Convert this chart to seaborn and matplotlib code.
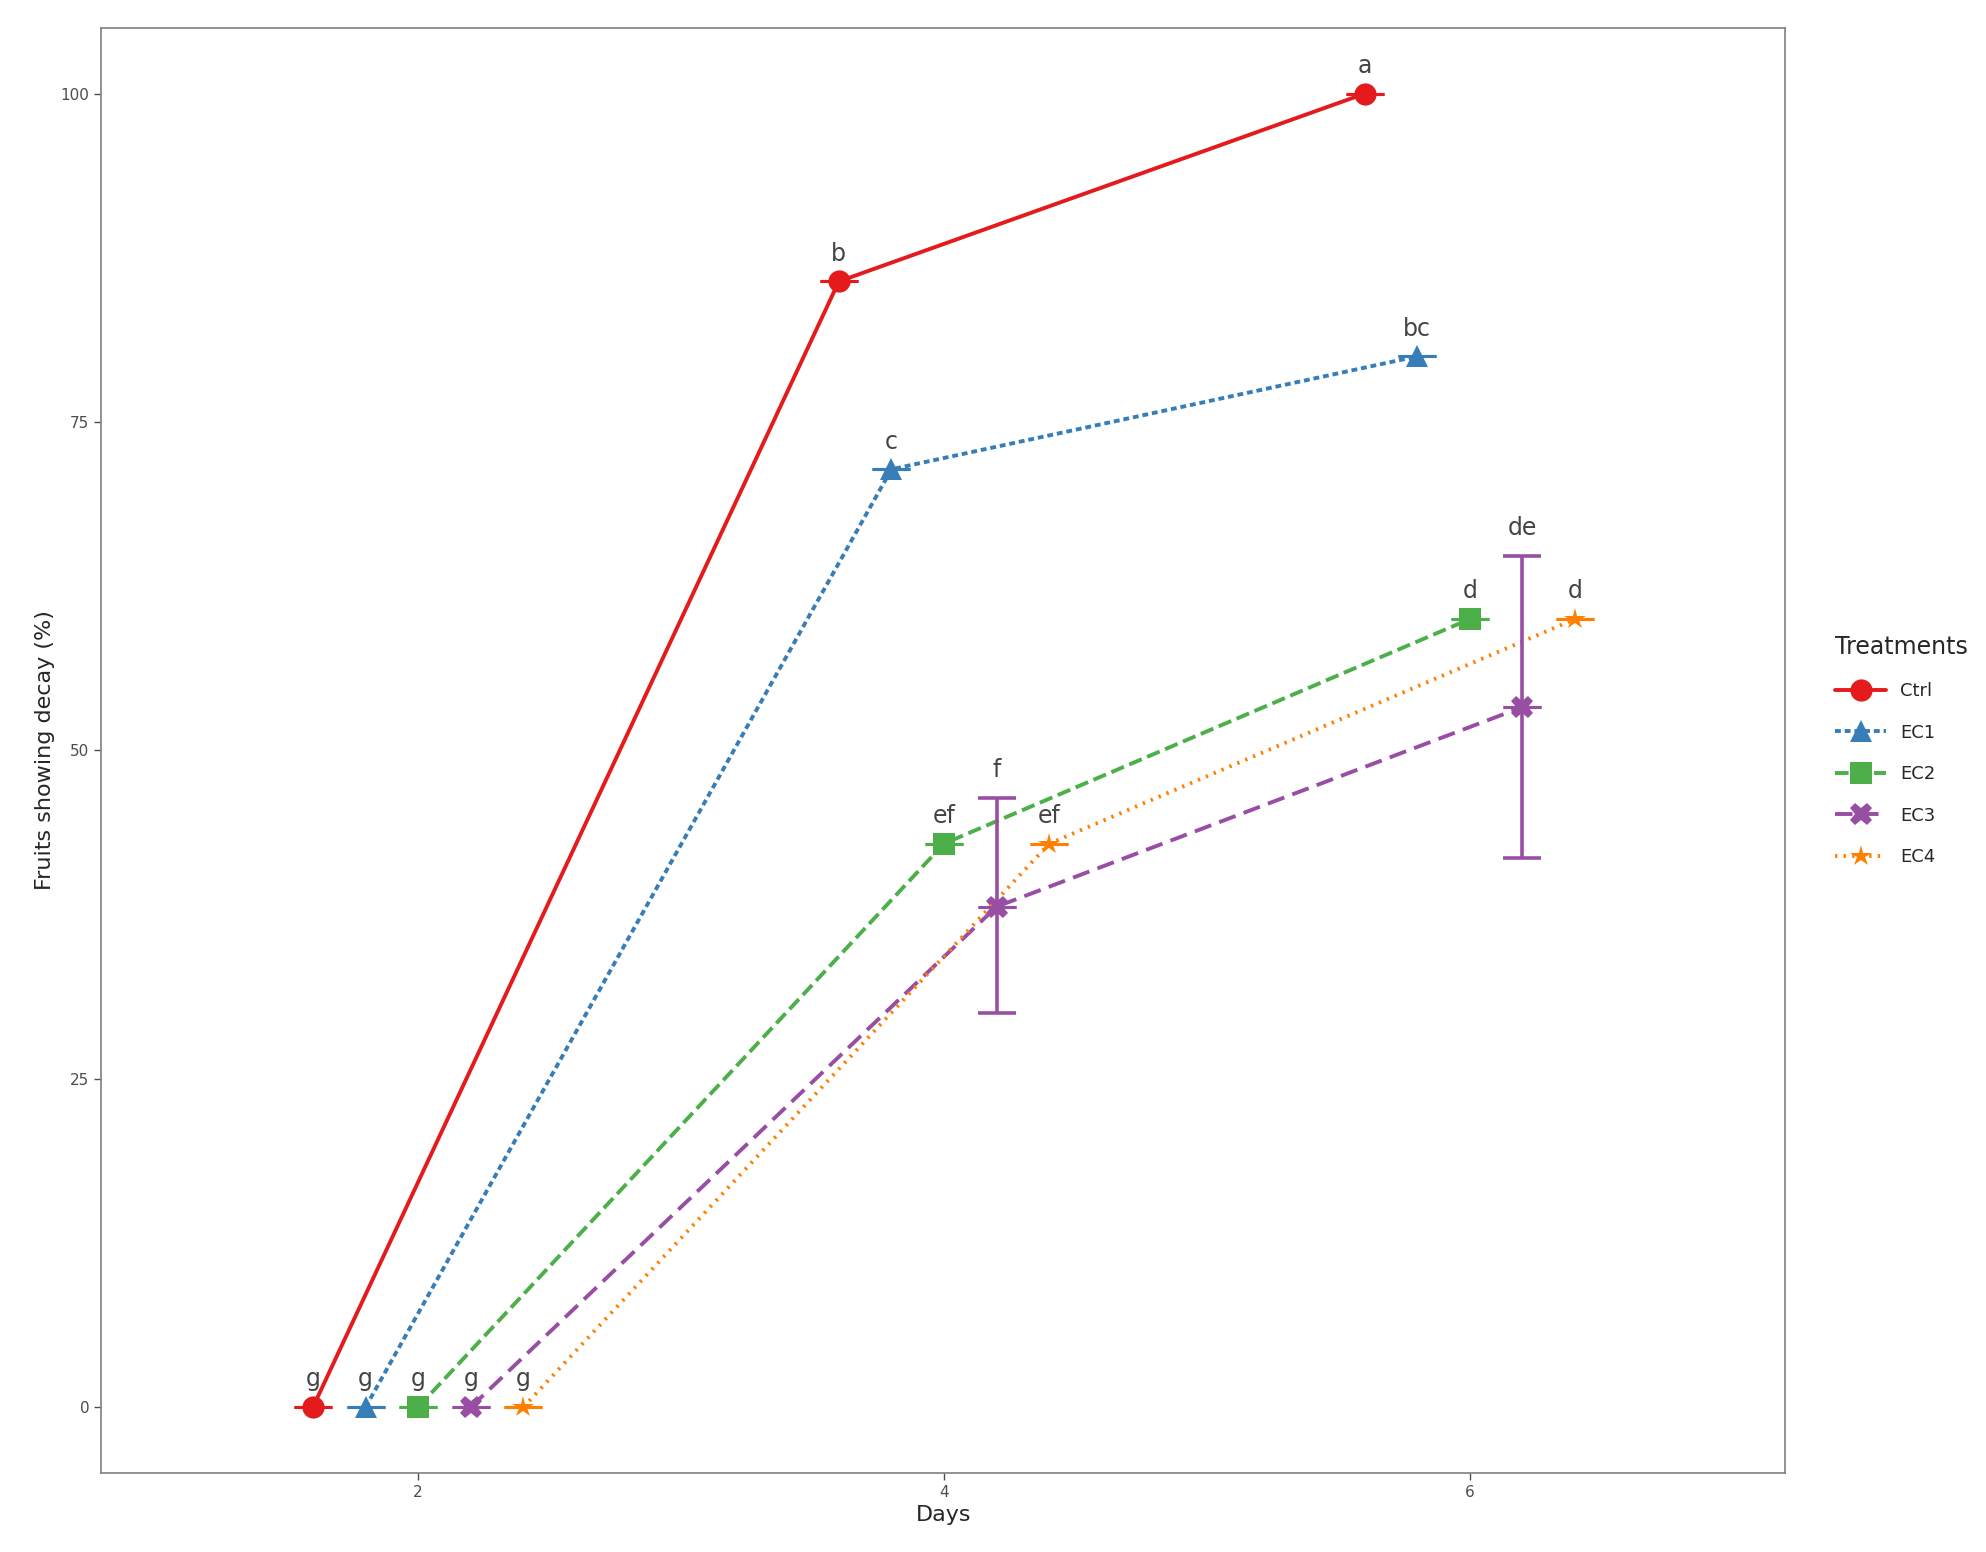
import matplotlib
matplotlib.use("Agg")
import matplotlib.pyplot as plt
import seaborn as sns
import pandas as pd
import numpy as np

days = [2, 4, 6]
treatments = ["Ctrl", "EC1", "EC2", "EC3", "EC4"]
offsets = [-0.4, -0.2, 0.0, 0.2, 0.4]
ctrl = [0, 85.7, 100]
ec1 = [0, 71.4, 80]
ec2 = [0, 42.9, 60]
ec3 = [0, 38.1, 53.3]
ec4 = [0, 42.9, 60]
ec3_low = [0, 30.0, 41.8]
ec3_high = [0, 46.4, 64.8]
letters = {"Ctrl": ["g", "b", "a"], "EC1": ["g", "c", "bc"], "EC2": ["g", "ef", "d"],
           "EC3": ["g", "f", "de"], "EC4": ["g", "ef", "d"]}

values = {"Ctrl": ctrl, "EC1": ec1, "EC2": ec2, "EC3": ec3, "EC4": ec4}
rows = []
for t, o in zip(treatments, offsets):
    for d, v in zip(days, values[t]):
        rows.append({"Days": d + o, "Value": v, "Treatments": t})
df = pd.DataFrame(rows)

colors = {"Ctrl": "#e41a1c", "EC1": "#377eb8", "EC2": "#4daf4a", "EC3": "#984ea3", "EC4": "#ff7f00"}
dashes = {"Ctrl": "", "EC1": (1.5, 1), "EC2": (3.5, 1.5), "EC3": (4.5, 2.2), "EC4": (0.6, 1.6)}
markers = {"Ctrl": "o", "EC1": "^", "EC2": "s", "EC3": "X", "EC4": "*"}

sns.set_theme(style="white")
fig = plt.figure(figsize=(19.86, 15.52), dpi=100)
ax = fig.add_axes([0.051, 0.051, 0.848, 0.931])
sns.lineplot(data=df, x="Days", y="Value", hue="Treatments", style="Treatments",
             palette=colors, dashes=dashes, markers=markers, markersize=16,
             linewidth=2.8, ax=ax, alpha=1.0, markeredgewidth=0)
for line in ax.lines:
    pass
for t, o in zip(treatments, offsets):
    xs = [d + o for d in days]
    ax.errorbar(xs, values[t], yerr=0, fmt="none", ecolor=colors[t], capsize=14, capthick=2.2, elinewidth=0)
    for x, v, l in zip(xs, values[t], letters[t]):
        top = ec3_high[days.index(round(x - o))] if t == "EC3" else v
        ax.text(x, top + 1.2, l, ha="center", va="bottom", fontsize=17, color="#444444")
x3 = [d + 0.2 for d in days]
lo = np.array(ec3) - np.array(ec3_low)
hi = np.array(ec3_high) - np.array(ec3)
ax.errorbar(x3[1:], ec3[1:], yerr=[lo[1:], hi[1:]], fmt="none", ecolor=colors["EC3"],
            capsize=14, capthick=2.6, elinewidth=2.6)
for l in ax.lines:
    if l.get_marker() not in (None, "None", ""):
        l.set_markerfacecolor(matplotlib.colors.to_rgba(l.get_color(), 0.35))

ax.set_xlim(0.795, 7.2)
ax.set_ylim(-5, 105)
ax.set_xticks([2, 4, 6])
ax.set_yticks([0, 25, 50, 75, 100])
ax.tick_params(axis="both", labelsize=11, colors="#4d4d4d", length=5, width=1, direction="out")
ax.tick_params(bottom=True, left=True)
ax.set_xlabel("Days", fontsize=16)
ax.set_ylabel("Fruits showing decay (%)", fontsize=16)
for s in ax.spines.values():
    s.set_color("#7f7f7f"); s.set_linewidth(1.2)
leg = ax.legend(title="Treatments", loc="center left", bbox_to_anchor=(1.02, 0.5),
                frameon=False, fontsize=13, title_fontsize=17, handlelength=2.8, labelspacing=1.3)
leg._legend_box.align = "left"
fig.savefig("out.png", dpi=100)
